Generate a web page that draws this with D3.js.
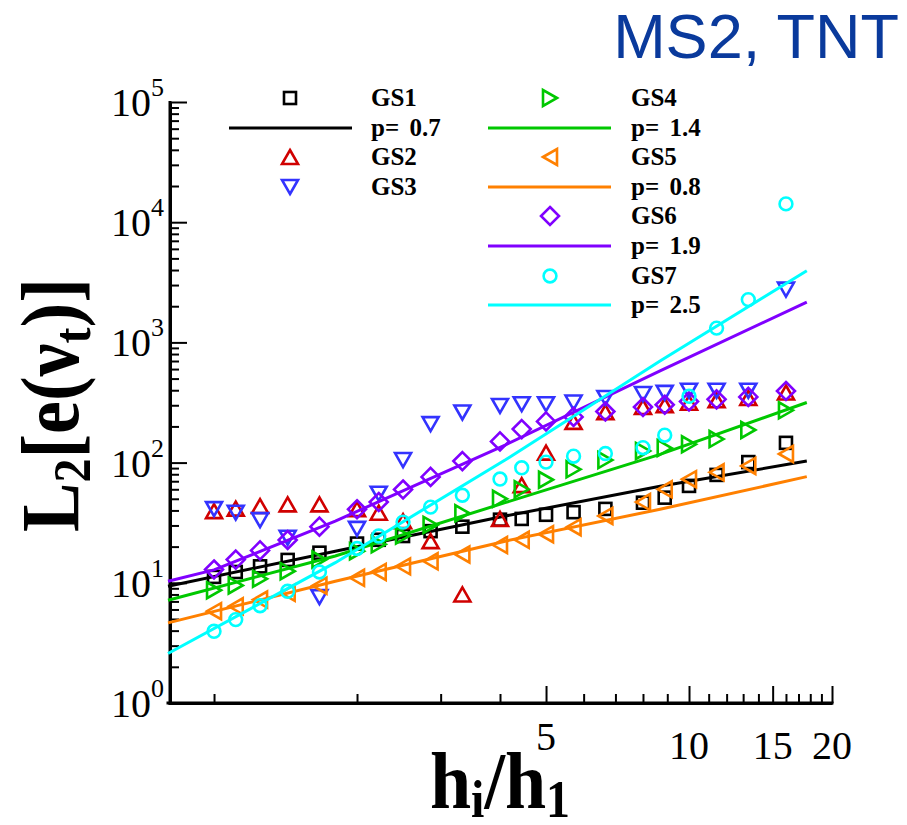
<!DOCTYPE html>
<html><head><meta charset="utf-8">
<script src="https://cdn.jsdelivr.net/npm/d3@7"></script>
<style>body{margin:0;background:#fff}svg{display:block}</style>
</head><body>
<svg id="c" width="907" height="825"></svg>
<script>
// ---- data ----
const hRatio = [1, 1.111, 1.25, 1.429, 1.667, 2, 2.222, 2.5, 2.857, 3.333, 4, 4.444, 5, 5.714, 6.667, 8, 8.889, 10, 11.43, 13.33, 16];
const gs1 = [11.2, 12.3, 13.7, 15.5, 17.8, 21.2, 22.8, 24.5, 26.9, 29.3, 33.5, 34, 36.8, 38.7, 41.2, 46.4, 51.1, 64, 79, 101, 146];
const gs2 = [39.5, 41.4, 43.5, 44.9, 44.9, 41, 38.3, 32.6, 22.2, 8.0, 34, 65, 121, 218, 263, 290, 300, 315, 330, 345, 383];
const gs3 = [41, 38.3, 33.2, 23.7, 7.6, 28.1, 55.1, 105, 209, 261, 296, 306, 306, 316, 345, 372, 380, 396, 396, 396, 2750];
const gs4 = [8.67, 9.5, 10.8, 12.5, 15.6, 18.3, 20.9, 24.7, 30.3, 37.9, 50, 60, 72, 88, 105, 125, 132, 142, 157, 187, 272];
const gs5 = [5.81, 6.37, 7.25, 8.25, 9.46, 11.0, 12.3, 13.7, 15.1, 17.2, 20.6, 22.8, 25.4, 29, 36, 47, 60, 72.8, 83, 93.8, 118];
const gs6 = [12.9, 15.6, 18.6, 22.7, 29.3, 40.9, 47.0, 59.7, 76, 103, 150, 190, 220, 240, 266, 290, 303, 323, 336, 352, 394];
const gs7 = [3.95, 4.94, 6.45, 8.5, 12.3, 19.3, 24.5, 32.0, 42.6, 53.5, 73, 90.5, 101, 113, 119, 133, 169, 356, 1315, 2270, 14200];

// fitted lines (read as polylines from the picture)
const fit1X = [0.8, 1.8, 4.1, 8.69, 17.7], fit1Y = [9.37, 18.3, 35.9, 63.6, 103];
const fit4X = [0.8, 1.8, 4.1, 8.69, 17.7], fit4Y = [7.16, 16.7, 46.4, 117, 316];
const fit5X = [0.8, 1.8, 4.1, 8.69, 17.7], fit5Y = [4.64, 10.3, 22.2, 40.9, 76.4];
const fit6X = [0.8, 1.0, 1.8, 4.1, 8.69, 17.7], fit6Y = [10.3, 12.8, 32.6, 140, 580, 2166];
const fit7X = [0.8, 1.8, 4.1, 8.69, 17.7], fit7Y = [2.58, 14.7, 105, 700, 3950];

const seriesNames = ["GS1", "GS2", "GS3", "GS4", "GS5", "GS6", "GS7"];
const fitLabels = ["p= 0.7", "p= 1.4", "p= 0.8", "p= 1.9", "p= 2.5"];
const xTickLabels = [5, 10, 15, 20];
const yTickLabels = [0, 1, 2, 3, 4, 5];
const titleText = "MS2, TNT";

// ---- drawing ----
const svg = d3.select("#c");
const x = d3.scaleLog().domain([0.8, 20]).range([168, 832]);
const y = d3.scaleLog().domain([1, 1e5]).range([703, 102]);

const colors = {GS1:"#000000", GS2:"#d00000", GS3:"#3333ff", GS4:"#00c800", GS5:"#ff8000", GS6:"#8000ff", GS7:"#00ffff"};
const serif = "'Liberation Serif','Times New Roman',serif";

// axes
const xMajor = [5, 10, 15, 20];
const xMinor = [1,2,3,4,6,7,8,9,11,12,13,14,16,17,18,19];
const yMajor = [1,10,100,1e3,1e4,1e5];
const yMinor = [];
for (let e = 0; e < 5; e++) for (let k = 2; k <= 9; k++) yMinor.push(k * Math.pow(10, e));

function styleAxis(g){ g.selectAll("path").attr("stroke","#000").attr("stroke-width",3);
  g.selectAll("line").attr("stroke","#000").attr("stroke-width",2); g.selectAll("text").remove(); }

svg.append("g").attr("transform","translate(0,703)")
  .call(d3.axisBottom(x).tickValues(xMinor).tickSizeInner(-9).tickSizeOuter(0).tickFormat(""))
  .call(styleAxis);
svg.append("g").attr("transform","translate(0,703)")
  .call(d3.axisBottom(x).tickValues(xMajor).tickSizeInner(-17).tickSizeOuter(0).tickFormat(""))
  .call(styleAxis).select("path").attr("d","M166.5,0H833.5");
svg.append("g").attr("transform","translate(170,0)")
  .call(d3.axisLeft(y).tickValues(yMinor).tickSizeInner(-9).tickSizeOuter(0).tickFormat(""))
  .call(styleAxis);
svg.append("g").attr("transform","translate(170,0)")
  .call(d3.axisLeft(y).tickValues(yMajor).tickSizeInner(-17).tickSizeOuter(0).tickFormat(""))
  .call(styleAxis).select("path").attr("d","M0,101H0V704.5");

// tick labels
xTickLabels.forEach(v => {
  svg.append("text").attr("x", x(v)).attr("y", v === 5 ? 750 : 759)
    .attr("text-anchor","middle").attr("font-family",serif).attr("font-size",40).text(v);
});
yTickLabels.forEach(e => {
  const t = svg.append("text").attr("x", 164).attr("y", y(Math.pow(10,e)) + 14)
    .attr("text-anchor","end").attr("font-family",serif).attr("font-size",40);
  t.append("tspan").text("10");
  t.append("tspan").attr("dy",-20).attr("font-size",26).text(e);
});

// axis titles
const xt = svg.append("text").attr("transform","translate(500,808) scale(1,1.08)").attr("text-anchor","middle")
  .attr("font-family",serif).attr("font-weight","bold").attr("font-size",74);
xt.append("tspan").text("h");
xt.append("tspan").attr("dy",8).attr("font-size",48).text("i");
xt.append("tspan").attr("dy",-8).text("/h");
xt.append("tspan").attr("dy",8).attr("font-size",48).text("1");

const yt = svg.append("text").attr("transform","translate(78,405) rotate(-90) scale(1,1.12)").attr("text-anchor","middle")
  .attr("font-family",serif).attr("font-weight","bold").attr("font-size",74);
yt.append("tspan").text("L");
yt.append("tspan").attr("dy",11).attr("font-size",48).text("2");
yt.append("tspan").attr("dy",-11).text("[e(\u03BD");
yt.append("tspan").attr("dy",11).attr("font-size",48).text("t");
yt.append("tspan").attr("dy",-11).text(")]");

// title
svg.append("text").attr("x", 899).attr("y", 58).attr("text-anchor","end")
  .attr("font-family","'Liberation Sans',Arial,sans-serif").attr("font-size",63)
  .attr("fill","#0a3a9c").text(titleText);

// symbol shapes
function sym(g, kind, cx, cy, col){
  const sw = 2.6;
  if (kind === "square") g.append("rect").attr("x",cx-6).attr("y",cy-6).attr("width",12).attr("height",12)
      .attr("fill","none").attr("stroke",col).attr("stroke-width",sw);
  else if (kind === "circle") g.append("circle").attr("cx",cx).attr("cy",cy).attr("r",6.4)
      .attr("fill","none").attr("stroke",col).attr("stroke-width",sw);
  else {
    let pts;
    if (kind === "up") pts = [[cx,cy-7],[cx+8,cy+7],[cx-8,cy+7]];
    else if (kind === "down") pts = [[cx,cy+7],[cx+8,cy-7],[cx-8,cy-7]];
    else if (kind === "right") pts = [[cx+7,cy],[cx-7,cy-8],[cx-7,cy+8]];
    else if (kind === "left") pts = [[cx-7,cy],[cx+7,cy-8],[cx+7,cy+8]];
    else if (kind === "diamond") pts = [[cx,cy-9],[cx+9,cy],[cx,cy+9],[cx-9,cy]];
    g.append("polygon").attr("points", pts.map(p=>p.join(",")).join(" "))
      .attr("fill","none").attr("stroke",col).attr("stroke-width",sw).attr("stroke-linejoin","miter");
  }
}

const line = d3.line().x(d=>x(d[0])).y(d=>y(d[1]));
const plot = svg.append("g");
function drawFit(xs, ys, col){
  plot.append("path").attr("d", line(xs.map((v,i)=>[v, ys[i]])))
    .attr("fill","none").attr("stroke",col).attr("stroke-width",3);
}
function drawPts(vals, kind, col){
  const g = plot.append("g");
  vals.forEach((v,i)=> sym(g, kind, x(hRatio[i]), y(v), col));
}
drawPts(gs1, "square", colors.GS1); drawFit(fit1X, fit1Y, colors.GS1);
drawPts(gs2, "up", colors.GS2);
drawPts(gs3, "down", colors.GS3);
drawPts(gs4, "right", colors.GS4); drawFit(fit4X, fit4Y, colors.GS4);
drawPts(gs5, "left", colors.GS5); drawFit(fit5X, fit5Y, colors.GS5);
drawPts(gs6, "diamond", colors.GS6); drawFit(fit6X, fit6Y, colors.GS6);
drawPts(gs7, "circle", colors.GS7); drawFit(fit7X, fit7Y, colors.GS7);

// legend
const rows = [98, 128, 157, 187, 216, 246, 276, 305];
const leg = svg.append("g");
function legText(tx, ty, s){ leg.append("text").attr("x",tx).attr("y",ty+8).attr("font-family",serif)
  .attr("font-weight","bold").attr("font-size",25).attr("word-spacing",4).text(s); }
function legLine(x0, ty, col){ leg.append("line").attr("x1",x0).attr("x2",x0+123).attr("y1",ty).attr("y2",ty)
  .attr("stroke",col).attr("stroke-width",3); }
// column 1
sym(leg, "square", 290, rows[0], colors.GS1); legText(371, rows[0], seriesNames[0]);
legLine(229, rows[1], colors.GS1); legText(371, rows[1], fitLabels[0]);
sym(leg, "up", 290, rows[2], colors.GS2); legText(371, rows[2], seriesNames[1]);
sym(leg, "down", 290, rows[3], colors.GS3); legText(371, rows[3], seriesNames[2]);
// column 2
sym(leg, "right", 550, rows[0], colors.GS4); legText(631, rows[0], seriesNames[3]);
legLine(488, rows[1], colors.GS4); legText(631, rows[1], fitLabels[1]);
sym(leg, "left", 550, rows[2], colors.GS5); legText(631, rows[2], seriesNames[4]);
legLine(488, rows[3], colors.GS5); legText(631, rows[3], fitLabels[2]);
sym(leg, "diamond", 550, rows[4], colors.GS6); legText(631, rows[4], seriesNames[5]);
legLine(488, rows[5], colors.GS6); legText(631, rows[5], fitLabels[3]);
sym(leg, "circle", 550, rows[6], colors.GS7); legText(631, rows[6], seriesNames[6]);
legLine(488, rows[7], colors.GS7); legText(631, rows[7], fitLabels[4]);
</script>
</body></html>
